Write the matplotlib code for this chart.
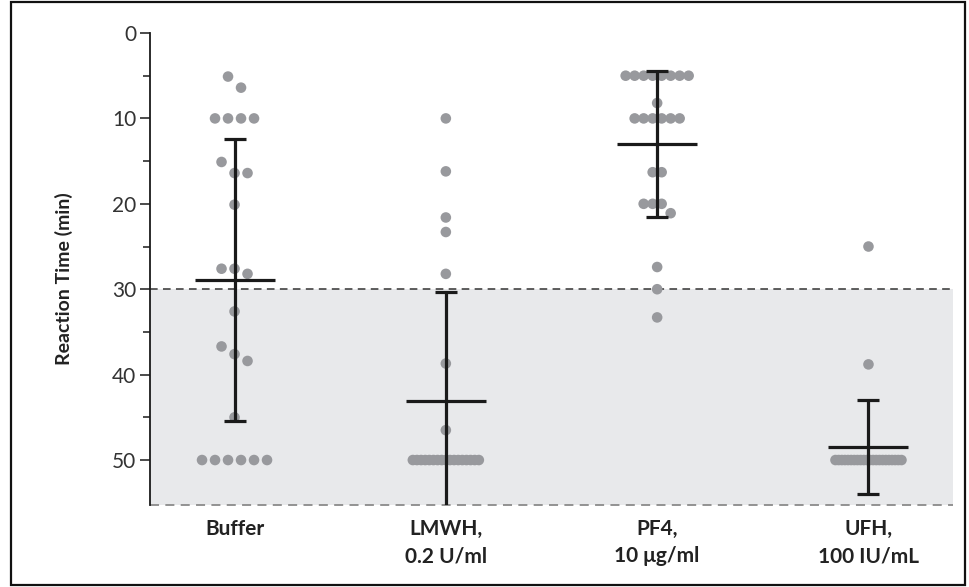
import numpy as np
import matplotlib
matplotlib.use("Agg")
import matplotlib.pyplot as plt
from matplotlib.patches import Rectangle

plt.rcParams['font.family'] = ['Lato', 'DejaVu Sans']

# ---------------- data ----------------
categories = ["Buffer", "LMWH,\n0.2 U/ml", "PF4,\n10 \u03bcg/ml", "UFH,\n100 IU/mL"]

buffer_vals = [5.1, 6.4, 10, 10, 10, 10, 15.1, 16.4, 16.4, 20.1, 27.6, 27.6, 28.2,
               32.6, 36.7, 37.6, 38.4, 45.0, 50, 50, 50, 50, 50, 50]
lmwh_vals = [10.0, 16.2, 21.6, 23.3, 28.2, 38.7, 46.5] + [50] * 17
pf4_vals = [5] * 8 + [8.2] + [10] * 6 + [16.3, 16.3, 20, 20, 20, 21.1, 27.4, 30.0, 33.3]
ufh_vals = [25.0, 38.8] + [50] * 22
groups = [buffer_vals, lmwh_vals, pf4_vals, ufh_vals]

means = [28.9, 43.1, 13.0, 48.5]
sds = [16.5, 12.8, 8.6, 5.5]

threshold = 30
ymax = 55.3
yticks = [0, 10, 20, 30, 40, 50]

# ---------------- layout ----------------
W, H = 969, 587
fig = plt.figure(figsize=(W / 100, H / 100), dpi=100)
ax_left, ax_right = 150 / W, 953 / W
ax_top, ax_bot = 1 - 33 / H, 1 - 505.3 / H
ax = fig.add_axes([ax_left, ax_bot, ax_right - ax_left, ax_top - ax_bot])

xlim = (-0.4, 3.4)
ax.set_xlim(*xlim)
ax.set_ylim(ymax, 0)

px_per_x = (ax_right - ax_left) * W / (xlim[1] - xlim[0])
px_per_y = (ax_top - ax_bot) * H / ymax

dot_color = "#98999d"
shade = "#e8e9eb"


def dot_offsets(values, spacing_px, gap_px=13.0, max_span_px=66.0):
    vals = np.asarray(values, dtype=float)
    order = np.argsort(vals, kind="stable")
    offs = np.zeros(len(vals))
    clusters, cur = [], [order[0]]
    for i in order[1:]:
        if (vals[i] - vals[cur[-1]]) * px_per_y < gap_px:
            cur.append(i)
        else:
            clusters.append(cur)
            cur = [i]
    clusters.append(cur)
    for c in clusters:
        n = len(c)
        if n > 1:
            s = min(spacing_px, max_span_px / (n - 1))
            for k, i in enumerate(c):
                offs[i] = (k - (n - 1) / 2) * s
    return offs / px_per_x


spacings = [13, 13, 9, 13]

# shaded region and dashed lines
ax.axhspan(threshold, ymax, color=shade, zorder=0, lw=0)
ax.axhline(threshold, color="#333333", lw=1.1, ls=(0, (5, 3.5)), zorder=1)
ax.axhline(ymax - 0.05, color="#8a8a8a", lw=1.3, ls=(0, (5, 3.5)), zorder=1, clip_on=False)

for gi, vals in enumerate(groups):
    offs = dot_offsets(vals, spacings[gi])
    ax.scatter(gi + offs, vals, s=58, color=dot_color, edgecolors="none", zorder=2)

# error bars: mean line + SD with caps
mean_half = 40 / px_per_x
cap_half = 11 / px_per_x
for gi, (m, sd) in enumerate(zip(means, sds)):
    lo, hi = m - sd, m + sd
    ax.vlines(gi, lo, hi, color="#1a1a1a", lw=2.3, zorder=3)
    ax.hlines([lo, hi], gi - cap_half, gi + cap_half, color="#1a1a1a", lw=2.3, zorder=3)
    ax.hlines(m, gi - mean_half, gi + mean_half, color="#1a1a1a", lw=2.3, zorder=3)

# axes styling
for s in ["top", "right", "bottom"]:
    ax.spines[s].set_visible(False)
ax.spines["left"].set_color("#1a1a1a")
ax.spines["left"].set_linewidth(1.3)
ax.spines["left"].set_bounds(0, ymax)

ax.set_yticks(yticks)
ax.set_yticks(np.arange(5, 50, 10), minor=True)
ax.tick_params(axis="y", which="major", length=7, width=1.1, color="#1a1a1a",
               labelsize=15, labelcolor="#333333", pad=3)
ax.tick_params(axis="y", which="minor", length=5, width=1.1, color="#1a1a1a")

ax.set_xticks(range(len(categories)))
ax.set_xticklabels(categories, fontsize=15, fontweight="bold", color="#222222",
                   linespacing=1.45)
ax.tick_params(axis="x", length=0, pad=10)

ax.set_ylabel("Reaction Time (min)", fontsize=14, fontweight="bold", color="#222222")
ax.yaxis.set_label_coords(-0.096, 0.48)

ax.set_facecolor("white")

# figure border
fig.patches.append(Rectangle((11 / W, 2 / H), (965 - 11) / W, (585 - 2) / H,
                             transform=fig.transFigure, fill=False,
                             edgecolor="#111111", lw=1.6, zorder=10))

fig.savefig("out.png", dpi=100)
